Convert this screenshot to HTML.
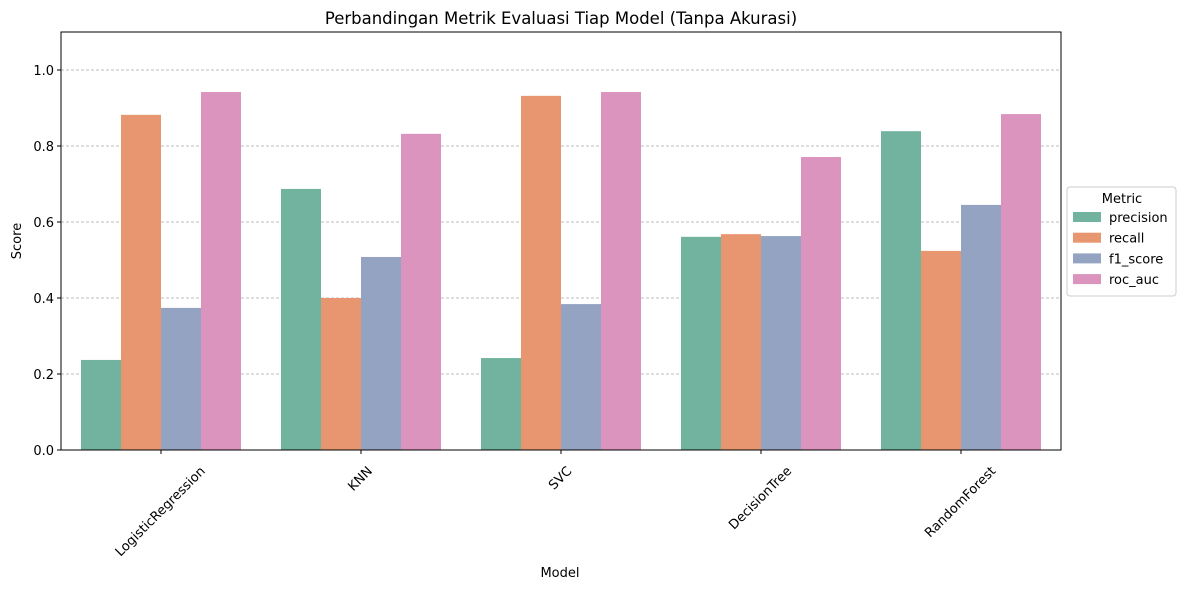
<!DOCTYPE html>
<html><head><meta charset="utf-8"><style>
body{margin:0;background:#fff;}
svg text{font-family:"DejaVu Sans","Liberation Sans",sans-serif;fill:#000;}
</style></head><body>
<svg id="chart" width="1189" height="590" xmlns="http://www.w3.org/2000/svg">
<rect x="0" y="0" width="1189" height="590" fill="#fff"/>
<g id="grid"></g>
<g id="bars"></g>
<rect x="61" y="32" width="1000" height="418" fill="none" stroke="#000" stroke-width="1"/>
<g id="axes"></g>
<text x="561" y="24" font-size="16.5" text-anchor="middle">Perbandingan Metrik Evaluasi Tiap Model (Tanpa Akurasi)</text>
<text x="560" y="577" font-size="13" text-anchor="middle">Model</text>
<text x="21" y="241" font-size="13" text-anchor="middle" transform="rotate(-90 21 241)">Score</text>
<g id="legend">
<rect x="1067" y="187" width="109" height="109" rx="3" fill="#fff" stroke="#ccc"/>
<text x="1122" y="203" font-size="13" text-anchor="middle">Metric</text>
</g>
</svg>
<script>
const categories=["LogisticRegression","KNN","SVC","DecisionTree","RandomForest"];
const metrics=["precision","recall","f1_score","roc_auc"];
const precision=[0.237,0.687,0.242,0.561,0.839];
const recall=[0.882,0.400,0.932,0.568,0.524];
const f1_score=[0.374,0.508,0.384,0.563,0.645];
const roc_auc=[0.942,0.832,0.942,0.771,0.884];
const yTicks=[0.0,0.2,0.4,0.6,0.8,1.0];
const colors=["#72b39f","#e8966f","#95a3c3","#db94be"];
const series=[precision,recall,f1_score,roc_auc];
const NS="http://www.w3.org/2000/svg";
const x0=61,pw=1000,yBase=450,yTop=32,yMax=1.1;
const y=v=>yBase-(v/yMax)*(yBase-yTop);
const bw=pw/categories.length;
const xc=i=>x0+bw*(i+0.5);
function mk(t,a,p){const e=document.createElementNS(NS,t);for(const k in a)e.setAttribute(k,a[k]);p.appendChild(e);return e;}
const grid=document.getElementById('grid'),bars=document.getElementById('bars'),axes=document.getElementById('axes'),leg=document.getElementById('legend');
yTicks.forEach(t=>{
 if(t>0){const g=mk('line',{x1:x0,x2:x0+pw,y1:y(t),y2:y(t),stroke:'#a8a8a8','stroke-dasharray':'3,2','stroke-width':0.8},grid);
 
 }
 const tk=mk('line',{x1:x0-4,x2:x0,y1:y(t),y2:y(t),stroke:'#000'},axes);
 
 
 const l=mk('text',{x:x0-7,y:y(t)+5,'font-size':13,'text-anchor':'end'},axes);l.textContent=t.toFixed(1);
 
 
});
const barW=bw*0.8/metrics.length;
categories.forEach((c,i)=>{
 series.forEach((s,j)=>{
  const bx=xc(i)-bw*0.4+j*barW;
  const r=mk('rect',{x:bx,y:y(s[i]),width:barW,height:yBase-y(s[i]),fill:colors[j]},bars);
  
  
 });
 const tk=mk('line',{x1:xc(i),x2:xc(i),y1:yBase,y2:yBase+4,stroke:'#000'},axes);
 
 
 const l=mk('text',{x:0,y:0,'font-size':13,'text-anchor':'middle'},axes);l.textContent=c;
 
 
 const L=l.getComputedTextLength();
 const half=(L*0.7071+13*0.7071)/2;
 const cx=xc(i)-1,cy=464+half;
 l.setAttribute('x',cx);l.setAttribute('y',cy+4.5);
 l.setAttribute('transform',`rotate(-45 ${cx} ${cy})`);
});
metrics.forEach((m,j)=>{
 const ly=212+j*20.7;
 const p=mk('rect',{x:1073,y:ly,width:28,height:10,fill:colors[j]},leg);
 
 
 const t=mk('text',{x:1109,y:ly+10,'font-size':13},leg);t.textContent=m;
 
 
});
</script>
</body></html>
